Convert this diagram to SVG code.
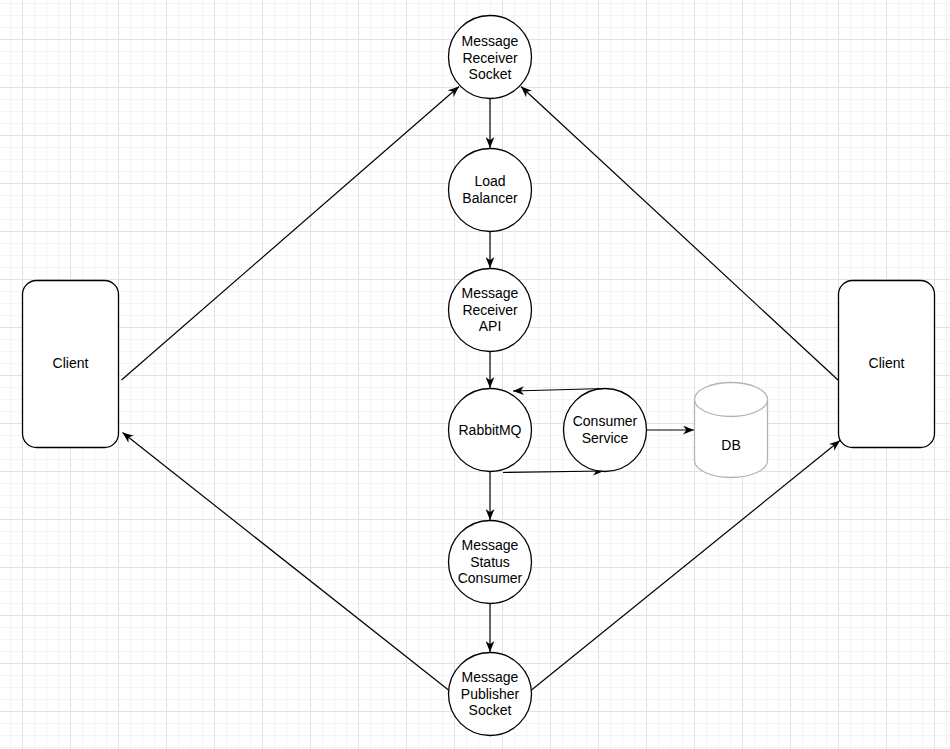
<svg xmlns="http://www.w3.org/2000/svg" width="950" height="749" viewBox="0 0 950 749">
  <style>
    .node { fill: #ffffff; stroke: #000000; stroke-width: 1.3; }
    .db { fill: #ffffff; stroke: #b3b3b3; stroke-width: 1.3; }
    .label { font-family: "Liberation Sans", Arial, Helvetica, sans-serif; font-size: 14px; fill: #000000; text-anchor: middle; }
    .edge { fill: none; stroke: #000000; stroke-width: 1.2; marker-end: url(#arrow); }
  </style>
  <defs>
    <pattern id="grid" x="22" y="39" width="48" height="48" patternUnits="userSpaceOnUse">
      <rect x="12" y="0" width="1" height="48" fill="#f4f4f4"/>
      <rect x="24" y="0" width="1" height="48" fill="#f4f4f4"/>
      <rect x="36" y="0" width="1" height="48" fill="#f4f4f4"/>
      <rect x="0" y="12" width="48" height="1" fill="#f4f4f4"/>
      <rect x="0" y="24" width="48" height="1" fill="#f4f4f4"/>
      <rect x="0" y="36" width="48" height="1" fill="#f4f4f4"/>
      <rect x="0" y="0" width="1" height="48" fill="#e2e2e2"/>
      <rect x="0" y="0" width="48" height="1" fill="#e2e2e2"/>
    </pattern>
    <marker id="arrow" viewBox="0 0 10 8" refX="10" refY="4" markerWidth="11" markerHeight="9" markerUnits="userSpaceOnUse" orient="auto">
      <path d="M0,0 L10,4 L0,8 L3,4 Z" fill="#000000"/>
    </marker>
  </defs>

  <rect x="0" y="0" width="950" height="749" fill="#ffffff"/>
  <rect x="0" y="0" width="950" height="749" fill="url(#grid)"/>

  <g id="connectors">
    <line class="edge" x1="490" y1="99" x2="490" y2="148"/>
    <line class="edge" x1="490" y1="232" x2="490" y2="268"/>
    <line class="edge" x1="490" y1="352" x2="490" y2="388"/>
    <line class="edge" x1="490" y1="472" x2="490" y2="520"/>
    <line class="edge" x1="490" y1="604" x2="490" y2="652"/>
    <line class="edge" x1="605" y1="388.5" x2="513" y2="391"/>
    <line class="edge" x1="503" y1="472.5" x2="604" y2="471"/>
    <line class="edge" x1="647" y1="430" x2="694" y2="430"/>
    <line class="edge" x1="121.5" y1="380" x2="459" y2="86.5"/>
    <line class="edge" x1="838" y1="380" x2="521" y2="86.5"/>
    <line class="edge" x1="448.5" y1="690" x2="122.5" y2="432.5"/>
    <line class="edge" x1="531.5" y1="690" x2="840" y2="440.5"/>
  </g>

  <g id="client-left">
    <rect class="node" x="22.5" y="280.5" width="96" height="167" rx="14" ry="14"/>
    <text class="label" x="70.5" y="368">Client</text>
  </g>

  <g id="client-right">
    <rect class="node" x="838.5" y="280.5" width="96" height="167" rx="14" ry="14"/>
    <text class="label" x="886.5" y="368">Client</text>
  </g>

  <g id="message-receiver-socket">
    <circle class="node" cx="490" cy="57" r="41.5"/>
    <text class="label" x="490" y="46">Message</text>
    <text class="label" x="490" y="62.5">Receiver</text>
    <text class="label" x="490" y="79">Socket</text>
  </g>

  <g id="load-balancer">
    <circle class="node" cx="490" cy="190" r="41.5"/>
    <text class="label" x="490" y="186">Load</text>
    <text class="label" x="490" y="203">Balancer</text>
  </g>

  <g id="message-receiver-api">
    <circle class="node" cx="490" cy="310" r="41.5"/>
    <text class="label" x="490" y="298">Message</text>
    <text class="label" x="490" y="314.5">Receiver</text>
    <text class="label" x="490" y="331">API</text>
  </g>

  <g id="rabbitmq">
    <circle class="node" cx="490" cy="430" r="41.5"/>
    <text class="label" x="490" y="435">RabbitMQ</text>
  </g>

  <g id="consumer-service">
    <circle class="node" cx="605" cy="430" r="41.5"/>
    <text class="label" x="605" y="426">Consumer</text>
    <text class="label" x="605" y="443">Service</text>
  </g>

  <g id="db">
    <path class="db" d="M694.5,399.5 A36.5,17 0 0 1 767.5,399.5 L767.5,460.5 A36.5,17 0 0 1 694.5,460.5 Z"/>
    <path class="db" d="M694.5,399.5 A36.5,17 0 0 0 767.5,399.5" fill="none"/>
    <text class="label" x="731" y="450">DB</text>
  </g>

  <g id="message-status-consumer">
    <circle class="node" cx="490" cy="562" r="41.5"/>
    <text class="label" x="490" y="550">Message</text>
    <text class="label" x="490" y="566.5">Status</text>
    <text class="label" x="490" y="583">Consumer</text>
  </g>

  <g id="message-publisher-socket">
    <circle class="node" cx="490" cy="694" r="41.5"/>
    <text class="label" x="490" y="682">Message</text>
    <text class="label" x="490" y="698.5">Publisher</text>
    <text class="label" x="490" y="715">Socket</text>
  </g>
</svg>
